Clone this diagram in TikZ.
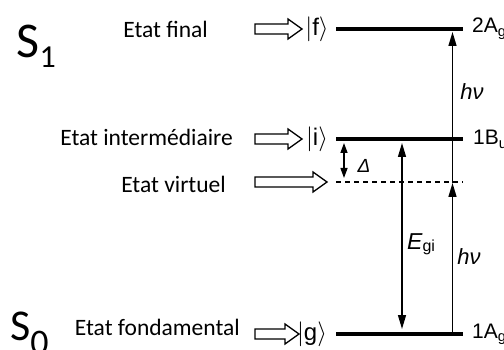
\documentclass[tikz,border=0pt]{standalone}
\usepackage{fontspec}
\setmainfont{Carlito}
\newfontfamily\arialf{Liberation Sans}
\usetikzlibrary{arrows.meta}
\newcommand{\hollowarrowdraw}[3]{\draw[harrow] (#1,#2-5) -- (#3-14,#2-5) -- (#3-14,#2-10) -- (#3,#2) -- (#3-14,#2+10) -- (#3-14,#2+5) -- (#1,#2+5) -- cycle;}
\begin{document}
\begin{tikzpicture}[x=1pt,y=-1pt,
  level/.style={line width=4pt},
  virt/.style={line width=1.2pt, dash pattern=on 5pt off 4pt},
  harrow/.style={draw, line width=1.3pt, fill=white, line join=miter},
  conn/.style={line width=1.5pt, -{Triangle[length=14pt,width=8pt]}},
  dconn/.style={line width=1.3pt, {Triangle[length=14pt,width=8pt]}-{Triangle[length=14pt,width=8pt]}},
  sconn/.style={line width=1.3pt, {Triangle[length=10pt,width=7pt]}-{Triangle[length=10pt,width=7pt]}},
  etat/.style={font=\fontsize{23.5}{28}\selectfont, anchor=base east, inner sep=0pt},
  rlab/.style={font=\arialf\fontsize{21}{24}\selectfont, anchor=base west, inner sep=0pt},
  ket/.style={font=\arialf\fontsize{24}{26}\selectfont, inner sep=0pt},
  ilab/.style={font=\arialf\itshape\fontsize{22}{24}\selectfont, inner sep=0pt}]
\useasboundingbox (0,0) rectangle (504,350);
\clip (0,0) rectangle (504,350);

% state labels
\node[anchor=base west, inner sep=0pt, font=\fontsize{50}{50}\selectfont] (s1) at (16.5,58) {S\raisebox{-10pt}{\fontsize{32}{32}\selectfont 1}};
\node[anchor=base west, inner sep=0pt, font=\fontsize{44}{44}\selectfont] (s0) at (10,340) {S\raisebox{-14pt}{\fontsize{36}{36}\selectfont 0}};

\node[etat] (ef) at (208,38) {Etat final};
\node[etat] (ei) at (233,146) {Etat intermédiaire};
\node[etat] (ev) at (226,193) {Etat virtuel};
\node[etat] (eg) at (240,335) {Etat fondamental};

% hollow arrows
\hollowarrowdraw{255}{29}{302}
\hollowarrowdraw{255}{139}{302}
\hollowarrowdraw{255}{182}{327}
\hollowarrowdraw{255}{334}{299}

% kets
\node[ket] (kf) at (317,29) {$|$f$\rangle$};
\node[ket] (ki) at (317,139) {$|$i$\rangle$};
\node[ket] (kg) at (312,334) {$|$g$\rangle$};

% levels
\coordinate (fL) at (336,29);  \coordinate (fR) at (463,29);
\coordinate (iL) at (336,139); \coordinate (iR) at (463,139);
\coordinate (vL) at (336,182); \coordinate (vR) at (463,182);
\coordinate (gL) at (336,334); \coordinate (gR) at (463,334);
\draw[level] (fL) -- (fR);
\draw[level] (iL) -- (iR);
\draw[virt] (vL) -- (vR);
\draw[level] (gL) -- (gR);

\node[rlab] (lf) at (472,33) {2A\textsubscript{g}};
\node[rlab] (li) at (473,145) {1B\textsubscript{u}};
\node[rlab] (lg) at (472,338) {1A\textsubscript{g}};

% photon arrows
\coordinate (p0) at (452.5,334);
\coordinate (p1) at (452.5,183);
\coordinate (p2) at (452.5,32);
\draw[conn] (p0) -- (p1);
\draw[conn] (p1) -- (p2);
\node[ilab] (hv1) at (472,92) {hν};
\node[ilab] (hv2) at (469,257) {hν};

% E_gi
\coordinate (e1) at (402,143);
\coordinate (e2) at (402,329);
\draw[dconn] (e1) -- (e2);
\node[ilab, anchor=base west, font=\arialf\itshape\fontsize{23}{24}\selectfont] (egi) at (407,250) {E\raisebox{-2pt}{\upshape\fontsize{16}{16}\selectfont gi}};

% Delta
\coordinate (d1) at (344,143);
\coordinate (d2) at (344,178);
\draw[sconn] (d1) -- (d2);
\node[ilab, font=\arialf\itshape\fontsize{19}{20}\selectfont] (dl) at (364,166) {Δ};
\end{tikzpicture}
\end{document}
